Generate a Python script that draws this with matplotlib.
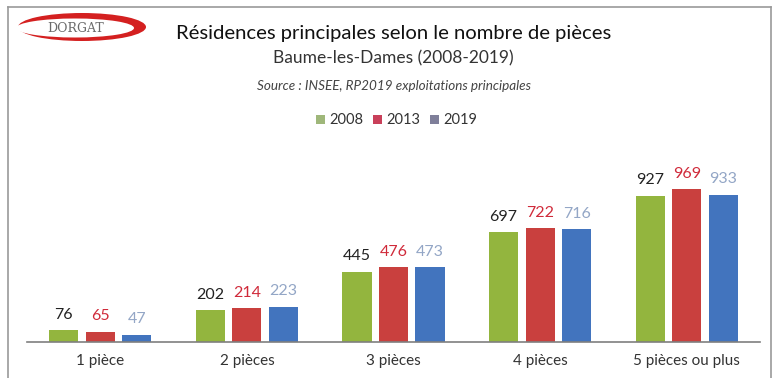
import matplotlib
matplotlib.use("Agg")
import matplotlib.pyplot as plt
import numpy as np
from matplotlib.patches import Rectangle, Ellipse

categories = ["1 pièce", "2 pièces", "3 pièces", "4 pièces", "5 pièces ou plus"]
years = ["2008", "2013", "2019"]
v2008 = [76, 202, 445, 697, 927]
v2013 = [65, 214, 476, 722, 969]
v2019 = [47, 223, 473, 716, 933]

bar_colors = ["#93b53e", "#c9403e", "#4274be"]
label_colors = ["#222222", "#d02a3a", "#93a6c6"]
legend_colors = ["#9fb77a", "#c9405a", "#7f7f9a"]

plt.rcParams["font.family"] = ["Lato", "DejaVu Sans"]

W, H = 778, 378
fig = plt.figure(figsize=(W / 100, H / 100), dpi=100)
fig.patch.set_facecolor("white")

# outer frame
frame = fig.add_axes([0, 0, 1, 1])
frame.set_xlim(0, W)
frame.set_ylim(H, 0)
frame.axis("off")
frame.plot([8, 8], [7, H + 2], color="#9a9a9a", lw=1.2)
frame.plot([8, 771], [7, 7], color="#9a9a9a", lw=1.2)
frame.plot([771, 771], [7, H + 2], color="#9a9a9a", lw=1.2)

# logo swoosh
frame.add_patch(Ellipse((82, 27), 128, 28, facecolor="#d42020", edgecolor="none"))
frame.add_patch(Ellipse((75, 28), 118, 19, facecolor="white", edgecolor="none"))
frame.text(76, 28, "DORGAT", ha="center", va="center", fontsize=9,
           family=["DejaVu Serif"], color="#6a6a6a")

# titles
fig.text(394 / W, 1 - 33 / H, "Résidences principales selon le nombre de pièces",
         ha="center", va="center", fontsize=14.6, color="#111111")
fig.text(393 / W, 1 - 58 / H, "Baume-les-Dames (2008-2019)",
         ha="center", va="center", fontsize=12.5, color="#333333")
fig.text(394 / W, 1 - 86 / H, "Source : INSEE, RP2019 exploitations principales",
         ha="center", va="center", fontsize=9.7, style="italic", color="#444444")

# legend
lx = [316, 373, 430]
for x, yr, c in zip(lx, years, legend_colors):
    frame.add_patch(Rectangle((x, 115), 9, 9, facecolor=c, edgecolor="none"))
    frame.text(x + 13, 120, yr, ha="left", va="center", fontsize=10.5, color="#333333")

# bar chart
x0, x1 = 27, 760
ybase, ytop = 342, 168
ax = fig.add_axes([x0 / W, 1 - ybase / H, (x1 - x0) / W, (ybase - ytop) / H])
ymax = 969 * (ybase - ytop) / 153.0
ax.set_xlim(-0.5, len(categories) - 0.5)
ax.set_ylim(0, ymax)

x = np.arange(len(categories))
width = 0.198
step = 0.249
series = [v2008, v2013, v2019]
for i, (vals, bc, lc) in enumerate(zip(series, bar_colors, label_colors)):
    pos = x + (i - 1) * step
    ax.bar(pos, vals, width=width, color=bc, edgecolor="none")
    for p, v in zip(pos, vals):
        ax.annotate(str(v), (p, v), xytext=(0, 6), textcoords="offset points",
                    ha="center", va="bottom", fontsize=11.5, color=lc)

ax.set_xticks(x)
ax.set_xticklabels(categories, fontsize=11, color="#333333")
ax.tick_params(axis="x", length=0, pad=9)
ax.set_yticks([])
for s in ["top", "right", "left"]:
    ax.spines[s].set_visible(False)
ax.spines["bottom"].set_color("#7f7f7f")
ax.spines["bottom"].set_linewidth(1.2)
ax.patch.set_alpha(0)

fig.savefig("out.png", dpi=100)
